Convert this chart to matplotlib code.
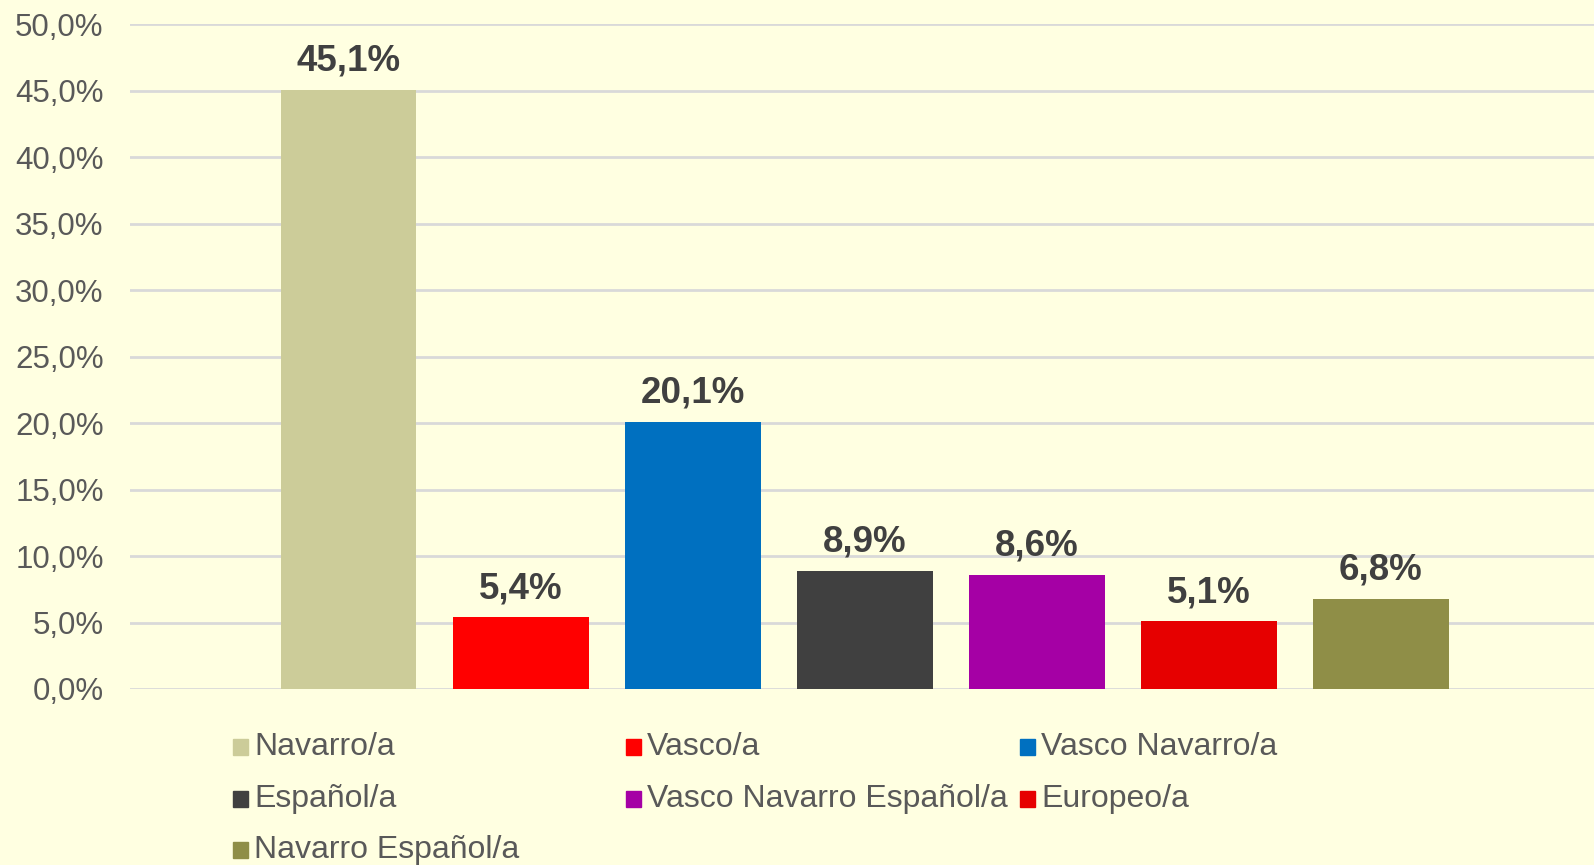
import matplotlib
matplotlib.use("Agg")
import matplotlib.pyplot as plt
from matplotlib.patches import Rectangle
from matplotlib.ticker import FuncFormatter
import numpy as np

categorias = ["Navarro/a", "Vasco/a", "Vasco Navarro/a", "Español/a",
              "Vasco Navarro Español/a", "Europeo/a", "Navarro Español/a"]
valores = [45.1, 5.4, 20.1, 8.9, 8.6, 5.1, 6.8]
colores = ["#CCCC99", "#FF0000", "#0070C0", "#404040",
           "#A500A5", "#E60000", "#8F8E47"]
ticks_y = [0, 5, 10, 15, 20, 25, 30, 35, 40, 45, 50]

fondo = "#FFFFE1"
plt.rcParams['font.family'] = ['Liberation Sans', 'DejaVu Sans']

fig = plt.figure(figsize=(15.94, 8.65), dpi=100, facecolor=fondo)
ax = fig.add_axes([0.0816, 0.2035, 0.9184, 0.7683])
ax.set_facecolor(fondo)

pos = np.arange(len(categorias))
barras = ax.bar(pos, valores, width=0.79, color=colores, zorder=3)

for b, v in zip(barras, valores):
    ax.annotate(f"{v:.1f}%".replace('.', ','),
                (b.get_x() + b.get_width() / 2, v),
                xytext=(0, 8), textcoords="offset points",
                ha="center", va="bottom", fontsize=26.5, fontweight="bold",
                color="#404040", zorder=4)

ax.set_xlim(-1.27, 7.24)
ax.set_ylim(0, 50)
ax.set_yticks(ticks_y)
ax.yaxis.set_major_formatter(FuncFormatter(lambda v, p: f"{v:.1f}%".replace('.', ',')))
ax.tick_params(axis='y', length=0, pad=19, labelsize=22.5, labelcolor="#595959")
ax.set_xticks([])
ax.grid(axis='y', color="#D9D9D9", linewidth=2, zorder=0)
for s in ax.spines.values():
    s.set_visible(False)

# leyenda manual en 3 columnas
col_x = [233, 626, 1020]
fila_y = [747, 799, 850]
W, H = 1594, 865
for i, (cat, col) in enumerate(zip(categorias, colores)):
    x = col_x[i % 3]
    y = fila_y[i // 3]
    fig.patches.append(Rectangle((x / W, 1 - (y + 8) / H), 15 / W, 16 / H,
                                 transform=fig.transFigure, color=col))
    fig.text((x + 21) / W, 1 - y / H, cat, fontsize=23, color="#595959",
             ha="left", va="center")

fig.savefig("out.png", dpi=100, facecolor=fondo)
